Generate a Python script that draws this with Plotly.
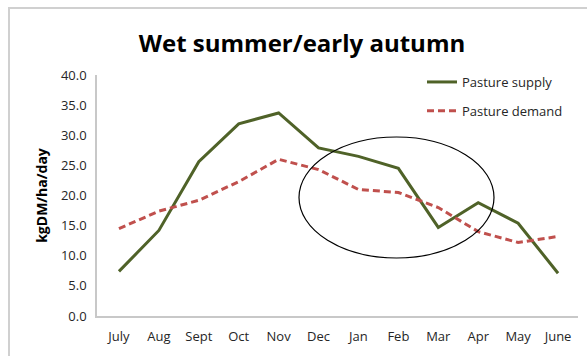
import plotly.graph_objects as go

months = ["July", "Aug", "Sept", "Oct", "Nov", "Dec", "Jan", "Feb", "Mar", "Apr", "May", "June"]
pasture_supply = [7.4, 14.2, 25.6, 31.9, 33.7, 27.9, 26.5, 24.5, 14.7, 18.8, 15.4, 7.1]
pasture_demand = [14.5, 17.4, 19.2, 22.3, 26.0, 24.3, 21.0, 20.5, 18.0, 14.0, 12.2, 13.2]
y_ticks = [0, 5, 10, 15, 20, 25, 30, 35, 40]

W, H = 587, 356
L, R, T, B = 97, 9, 75, 40
pw, ph = W - L - R, H - T - B

def px(x):
    return (x - L) / pw

def py(y):
    return (H - B - y) / ph

font = "Open Sans, Liberation Sans, sans-serif"

fig = go.Figure()
fig.add_trace(go.Scatter(
    x=months, y=pasture_supply, name="Pasture supply", mode="lines",
    line=dict(color="#4F6228", width=3), legendgroup="a",
))
fig.add_trace(go.Scatter(
    x=months, y=pasture_demand, name="Pasture demand", mode="lines",
    line=dict(color="#C0504D", width=3, dash="7px,4px"), legendgroup="b",
))

# circled region highlighting the late summer / autumn period
fig.add_shape(type="circle", xref="paper", yref="paper",
              x0=px(299), x1=px(494), y0=py(258), y1=py(137),
              line=dict(color="black", width=1.2))

# outer chart frame
fig.add_shape(type="rect", xref="paper", yref="paper",
              x0=px(9), x1=px(620), y0=py(400), y1=py(8),
              line=dict(color="#d0d0d0", width=2))

fig.update_layout(
    width=W, height=H,
    margin=dict(l=L, r=R, t=T, b=B),
    paper_bgcolor="white", plot_bgcolor="white",
    font=dict(family=font, size=13, color="#333333"),
    title=dict(text="<b>Wet summer/early autumn</b>", x=px(302),
               xref="paper", xanchor="center",
               y=1 - 44 / H, yanchor="middle",
               font=dict(size=24, color="black")),
    showlegend=True,
    legend=dict(x=px(422), y=py(67), xanchor="left", yanchor="top",
                bgcolor="rgba(0,0,0,0)", traceorder="grouped", tracegroupgap=9,
                font=dict(size=13, color="#262626")),
    xaxis=dict(showline=True, linecolor="#c8c8c8", linewidth=1.5,
               showgrid=False, ticks="", tickfont=dict(size=13, color="#262626"),
               ticklabelstandoff=8,
               range=[-0.55, 11.5]),
    yaxis=dict(range=[0, 40], tickvals=y_ticks, tickformat=".1f",
               showline=True, linecolor="#c8c8c8", linewidth=1.5,
               showgrid=False, zeroline=False, ticks="", ticklen=0,
               tickfont=dict(size=13, color="#262626"),
               ticklabelstandoff=6,
               title=dict(text="<b>kgDM/ha/day</b>", font=dict(size=14, color="black"),
                          standoff=10)),
)

fig.write_html("out.html")
